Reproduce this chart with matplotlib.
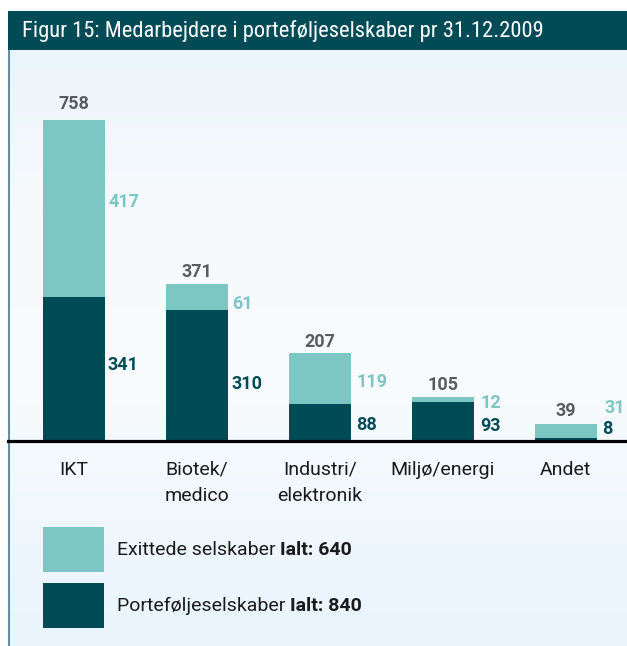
import numpy as np
import matplotlib
matplotlib.use("Agg")
import matplotlib.pyplot as plt
from matplotlib import font_manager
from matplotlib.patches import Rectangle

# ---------------- data ----------------
categories = ["IKT", "Biotek/\nmedico", "Industri/\nelektronik", "Miljø/energi", "Andet"]
portfolio = [341, 310, 88, 93, 8]      # Porteføljeselskaber (dark)
exited = [417, 61, 119, 12, 31]        # Exittede selskaber (light)
totals = [758, 371, 207, 105, 39]
title = "Figur 15: Medarbejdere i porteføljeselskaber pr 31.12.2009"
legend_labels = [("Exittede selskaber ", "Ialt: 640"), ("Porteføljeselskaber ", "Ialt: 840")]

# ---------------- style ----------------
DARK = "#014b57"
LIGHT = "#7cc6c3"
GREY = "#5a5b5e"
TXT = "#1a1a1a"

names = {f.name for f in font_manager.fontManager.ttflist}
TITLE_FONT = "Roboto Condensed" if "Roboto Condensed" in names else "Roboto"
BODY_FONT = "Roboto"
plt.rcParams["font.family"] = [BODY_FONT, "DejaVu Sans"]

W, H = 627, 646
fig = plt.figure(figsize=(W / 100, H / 100), dpi=100)
fig.patch.set_facecolor("white")

# background / frame axes in pixel coordinates
bg = fig.add_axes([0, 0, 1, 1])
bg.set_xlim(0, W)
bg.set_ylim(H, 0)
bg.axis("off")
stops = [0.0, 0.25, 0.55, 1.0]
stop_cols = [(0.925, 0.960, 0.985), (0.965, 0.980, 0.992),
             (0.975, 0.987, 0.995), (0.914, 0.957, 0.992)]
ys = np.linspace(0, 1, 200)
cols = np.zeros((200, 1, 3))
for c in range(3):
    cols[:, 0, c] = np.interp(ys, stops, [sc[c] for sc in stop_cols])
bg.imshow(cols, extent=(8, W, H, 50), aspect="auto", zorder=0, interpolation="bilinear")
bg.add_patch(Rectangle((8, 11), W - 8, 39, facecolor=DARK, edgecolor="none", zorder=1))
bg.plot([9, 9], [50, H], color="#5d939c", lw=1.5, zorder=2, solid_capstyle="butt")
bg.text(22, 31, title, color="white", fontsize=16.2, va="center", ha="left", zorder=3,
        family=[TITLE_FONT, "DejaVu Sans"])

# legend
leg_y = [527, 583]
leg_colors = [LIGHT, DARK]
for (reg, bold), yy, cc in zip(legend_labels, leg_y, leg_colors):
    bg.add_patch(Rectangle((43, yy), 61, 45, facecolor=cc, edgecolor="none", zorder=2))
    t1 = bg.text(117, yy + 23, reg, fontsize=14, color=TXT, va="center", ha="left", zorder=3)
    bg.annotate(bold, xy=(1, 0.5), xycoords=t1, va="center", ha="left",
                fontsize=14, color=TXT, fontweight="bold", zorder=3)

# bar axes
base_px = 441
top_px = 60
scale = 321 / 758.0
ax = fig.add_axes([8 / W, (H - base_px) / H, (W - 8) / W, (base_px - top_px) / H])
ax.patch.set_alpha(0)
ax.axis("off")
x = np.arange(len(categories))
x0 = 74
step = 122.9
ax.set_xlim((8 - x0) / step, (W - x0) / step)
ax.set_ylim(0, (base_px - top_px) / scale)
bw = 62 / step

ax.bar(x, portfolio, width=bw, color=DARK, zorder=2)
ax.bar(x, exited, width=bw, bottom=portfolio, color=LIGHT, zorder=2)
ax.axhline(0, color="black", lw=2.3, zorder=3, clip_on=False)

PX = 72 / 100  # px -> points
# label offsets in pixels (dx from bar right edge, dy from segment middle; +dy = down)
ex_off = [(3, -6), (4, 7), (6, 3), (7, 4), (8, -23)]
pf_off = [(3, -4), (4, 9), (5, 3), (7, 5), (6, -10)]
tot_off = [16, 12, 11, 12, 13]

for i in range(len(categories)):
    p, e, t = portfolio[i], exited[i], totals[i]
    right = x[i] + bw / 2
    dx, dy = ex_off[i]
    ax.annotate(str(e), xy=(right, p + e / 2), xytext=(dx * PX, -dy * PX),
                textcoords="offset points", ha="left", va="center",
                fontsize=13, fontweight="bold", color=LIGHT)
    dx, dy = pf_off[i]
    ax.annotate(str(p), xy=(right, p / 2), xytext=(dx * PX, -dy * PX),
                textcoords="offset points", ha="left", va="center",
                fontsize=13, fontweight="bold", color=DARK)
    ax.annotate(str(t), xy=(x[i], p + e), xytext=(0, tot_off[i] * PX),
                textcoords="offset points", ha="center", va="center",
                fontsize=13, fontweight="bold", color=GREY)
    ax.annotate(categories[i], xy=(x[i], 0), xytext=(0, -20 * PX),
                textcoords="offset points", ha="center", va="top",
                multialignment="center", linespacing=1.6,
                fontsize=14, color=TXT)

fig.savefig("out.png", dpi=100)
